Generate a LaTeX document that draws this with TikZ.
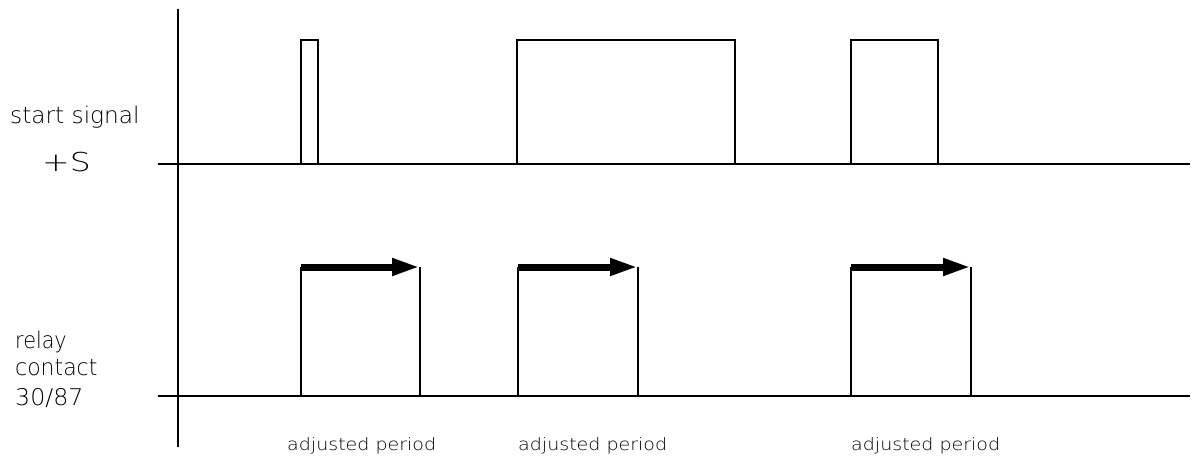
\documentclass[tikz,border=0pt]{standalone}
\usepackage{fontspec}
\setmainfont{DejaVu Sans ExtraLight}
\usetikzlibrary{arrows.meta}
\begin{document}
\begin{tikzpicture}[x=1pt,y=-1pt,
  sig/.style={line width=1.3pt},
  period/.style={line width=7pt,-{Triangle[length=28pt,width=16pt]}},
  lbl/.style={font=\fontsize{23}{26}\selectfont,inner sep=0pt,anchor=base west},
  per/.style={font=\fontsize{17}{20}\selectfont,inner sep=0pt,anchor=base west}]
\useasboundingbox (0,0) rectangle (1199,457);
% axes
\draw[sig] (178,9) -- (178,447);
\draw[sig] (158,164) -- (1190,164);
\draw[sig] (158,396) -- (1190,396);
% start signal pulses
\draw[sig] (301,164) -- (301,40) -- (318,40) -- (318,164);
\draw[sig] (517,164) -- (517,40) -- (735,40) -- (735,164);
\draw[sig] (851,164) -- (851,40) -- (938,40) -- (938,164);
% relay pulses
\foreach \a/\b in {301/420,518/638,851/971}{
  \draw[sig] (\a,396) -- (\a,267);
  \draw[sig] (\b,396) -- (\b,267);
  \draw[period] (\a,267) -- (\b,267);
}
% labels
\node[lbl] (s1) at (10,124) {\scalebox{1.01}[1]{start signal}};
\node[lbl,font=\fontsize{26}{28}\selectfont] (s2) at (42,172) {\scalebox{1.27}[1]{+S}};
\node[lbl] (r1) at (15,348) {\scalebox{0.9}[1]{relay}};
\node[lbl] (r2) at (15,375) {\scalebox{0.955}[1]{contact}};
\node[lbl] (r3) at (15,405) {\scalebox{1.03}[1]{30/87}};
\node[per] (p1) at (287,450) {\scalebox{1.12}[1]{adjusted period}};
\node[per] (p2) at (518,450) {\scalebox{1.12}[1]{adjusted period}};
\node[per] (p3) at (851,450) {\scalebox{1.12}[1]{adjusted period}};
\end{tikzpicture}
\end{document}
